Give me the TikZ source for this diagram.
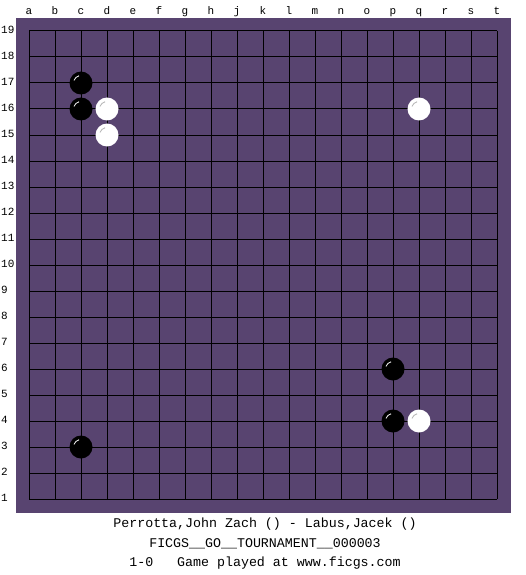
\documentclass[tikz,border=0pt]{standalone}
\usepackage{fontspec}
\setmonofont{Liberation Mono}
\definecolor{boardbg}{RGB}{88,68,112}
\tikzset{
  stone/.style={circle, minimum size=23pt, inner sep=0pt},
  blackstone/.style={stone, fill=black},
  whitestone/.style={stone, fill=white},
  coordlabel/.style={font=\ttfamily\fontsize{11}{12}\selectfont, inner sep=0pt},
  caption/.style={font=\ttfamily\fontsize{13.3}{15}\selectfont, inner sep=0pt}
}
\begin{document}
\begin{tikzpicture}[x=1pt, y=-1pt]
  \useasboundingbox[fill=white] (0,0) rectangle (525,575);
  \fill[boardbg] (16,18) rectangle (511,513);
  % grid
  \foreach \i in {0,...,18} {
    \draw[line width=1pt] (29+26*\i,31) -- (29+26*\i,499);
    \draw[line width=1pt] (29,31+26*\i) -- (497,31+26*\i);
  }
  % coordinates
  \foreach \l [count=\i from 0] in {a,b,c,d,e,f,g,h,j,k,l,m,n,o,p,q,r,s,t}
    \node[coordlabel, anchor=base] (col-\l) at (29+26*\i,14.5) {\l};
  \foreach \r in {1,...,19}
    \node[coordlabel, anchor=west] (row-\r) at (1,30+26*19-26*\r) {\r};
  % stones
  \foreach \name/\cx/\cy in {c17/2/2, c16/2/3, p6/14/13, p4/14/15, c3/2/16} {
    \node[blackstone] (\name) at (29+26*\cx,31+26*\cy) {};
    \draw[white, line width=0.8pt] (\name.center) ++(200:7.5) arc (200:255:7.5);
  }
  \foreach \name/\cx/\cy in {d16/3/3, d15/3/4, q16/15/3, q4/15/15} {
    \node[whitestone] (\name) at (29+26*\cx,31+26*\cy) {};
    \draw[gray!60, line width=0.8pt] (\name.center) ++(200:7.5) arc (200:255:7.5);
  }
  % game info
  \node[caption] (players) at (265,524) {Perrotta,John Zach () - Labus,Jacek ()};
  \node[caption] (event) at (265,544) {FICGS\_\_GO\_\_TOURNAMENT\_\_000003};
  \node[caption] (result) at (265,563) {1-0\ \ \ Game played at www.ficgs.com};
\end{tikzpicture}
\end{document}
